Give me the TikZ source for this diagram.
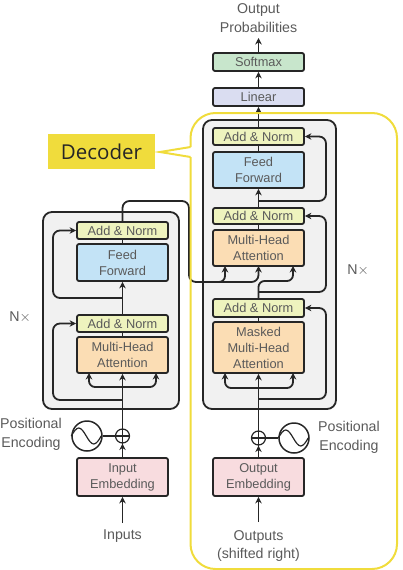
\documentclass[tikz,border=0pt]{standalone}
\usepackage{fontspec}
\usepackage{tikz}
\usepackage{xcolor}
\usetikzlibrary{arrows.meta}
\setmainfont{Liberation Sans}
\newfontfamily\callfont{Open Sans}
\definecolor{normcol}{HTML}{EEF3BE}
\definecolor{feedcol}{HTML}{C3E3F6}
\definecolor{attncol}{HTML}{FBDDB4}
\definecolor{embedcol}{HTML}{F8DCDF}
\definecolor{softcol}{HTML}{C8E6CC}
\definecolor{lincol}{HTML}{DADDF1}
\definecolor{stackcol}{HTML}{F1F1F1}
\definecolor{yellowcol}{HTML}{F0DC3C}
\definecolor{linecol}{HTML}{262626}
\definecolor{textcol}{HTML}{5A5A5A}
\begin{document}
\begin{tikzpicture} %Transformer
      [
      x=1pt, y=-1pt,
      block/.style={rectangle, draw=linecol, line width=1.8pt, rounded corners=2pt, minimum width=91pt, inner sep=0pt, align=center, text=textcol, font=\fontsize{12.8}{16}\selectfont},
      label/.style={text=textcol, inner sep=0pt, align=center, font=\fontsize{14.2}{18.5}\selectfont},
      stack/.style={draw=linecol, line width=1.8pt, fill=stackcol, rounded corners=9pt},
      wire/.style={draw=linecol, line width=1.8pt},
      arrow/.style={wire, -{Stealth[length=6.5pt,width=6.5pt]}},
      sine/.style={circle, draw=linecol, line width=1.5pt, minimum size=30pt, inner sep=0pt},
      plus/.style={circle, draw=linecol, line width=1.2pt, minimum size=14pt, inner sep=0pt},
      thinline/.style={draw=linecol, line width=1.2pt},
      frame/.style={draw=yellowcol, line width=2pt}
      ]
      \useasboundingbox (0,0) rectangle (402,570);
      % stacks
      \draw[stack] (43,212) rectangle (179,409);
      \draw[stack] (203,120) rectangle (336,409);
      % encoder
      \node[block, fill=normcol, minimum height=17pt] (enorma) at (122.5,230.5) {Add \& Norm};
      \node[block, fill=feedcol, minimum height=37pt] (efeed) at (122.5,262.5) {Feed\\Forward};
      \node[block, fill=normcol, minimum height=17pt] (enormb) at (122.5,323.5) {Add \& Norm};
      \node[block, fill=attncol, minimum height=36pt] (eattn) at (122.5,355) {Multi-Head\\Attention};
      \node[block, fill=embedcol, minimum height=38pt] (eembed) at (122.5,477) {Input\\Embedding};
      \node[plus] (eplus) at (122.5,436) {};
      \node[sine] (esine) at (87,436) {};
      \node[label] (inputs) at (122.5,536) {Inputs};
      \node[label, anchor=west] (epos) at (0,434.5) {Positional\\Encoding};
      \node[label] (enx) at (20,317) {N$\times$};
      % decoder
      \node[block, fill=softcol, minimum height=18pt] (soft) at (258.5,62) {Softmax};
      \node[block, fill=lincol, minimum height=18pt] (lin) at (258.5,97) {Linear};
      \node[block, fill=normcol, minimum height=17pt] (dnorma) at (258.5,136.5) {Add \& Norm};
      \node[block, fill=feedcol, minimum height=36pt] (dfeed) at (258.5,170) {Feed\\Forward};
      \node[block, fill=normcol, minimum height=16pt] (dnormb) at (258.5,216) {Add \& Norm};
      \node[block, fill=attncol, minimum height=36pt] (dattn) at (258.5,248) {Multi-Head\\Attention};
      \node[block, fill=normcol, minimum height=18pt] (dnormc) at (258.5,308) {Add \& Norm};
      \node[block, fill=attncol, minimum height=51pt] (dmask) at (258.5,347.5) {Masked\\Multi-Head\\Attention};
      \node[block, fill=embedcol, minimum height=38pt] (dembed) at (258.5,477) {Output\\Embedding};
      \node[plus] (dplus) at (258.5,438) {};
      \node[sine] (dsine) at (294,438) {};
      \node[label] (outputs) at (258.5,546) {Outputs\\(shifted right)};
      \node[label] (probs) at (258.5,18) {Output\\Probabilities};
      \node[label, anchor=west] (dpos) at (318,437.5) {Positional\\Encoding};
      \node[label] (dnx) at (358,270) {N$\times$};
      % free ends
      \coordinate (ein) at (122.5,523);
      \coordinate (din) at (258.5,522);
      \coordinate (dout) at (258.5,38);
      % plain wires
      \draw[wire] (enorma) -- (efeed);
      \draw[wire] (enormb) -- (eattn);
      \draw[wire] (dnorma) -- (dfeed);
      \draw[wire] (dnormb) -- (dattn);
      \draw[wire] (dnormc) -- (dmask);
      \draw[wire] (eplus) -- (esine);
      \draw[wire] (dplus) -- (dsine);
      % plus signs and sine waves
      \draw[thinline] (eplus.north) -- (eplus.south);
      \draw[thinline] (eplus.west) -- (eplus.east);
      \draw[thinline] (dplus.north) -- (dplus.south);
      \draw[thinline] (dplus.west) -- (dplus.east);
      \draw[thinline] (esine.west) sin ++(7.5,-8) cos ++(7.5,8) sin ++(7.5,8) cos ++(7.5,-8);
      \draw[thinline] (dsine.west) sin ++(7.5,-8) cos ++(7.5,8) sin ++(7.5,8) cos ++(7.5,-8);
      % plain arrows
      \draw[arrow] (ein) -- (eembed);
      \draw[arrow] (din) -- (dembed);
      \draw[arrow] (eembed) -- (eplus);
      \draw[arrow] (dembed) -- (dplus);
      \draw[arrow] (eplus) -- (eattn);
      \draw[arrow] (dplus) -- (dmask);
      \draw[arrow] (enormb) -- (efeed);
      \draw[arrow] (dnormb) -- (dfeed);
      \draw[arrow] (dnorma) -- (lin);
      \draw[arrow] (lin) -- (soft);
      \draw[arrow] (soft) -- (dout);
      % residuals
      \draw[arrow, rounded corners=7pt] (122.5,298) -- (53,298) -- (53,230.5) -- (enorma.west);
      \draw[arrow, rounded corners=7pt] (122.5,400) -- (53,400) -- (53,323.5) -- (enormb.west);
      \draw[arrow, rounded corners=7pt] (258.5,201) -- (326,201) -- (326,136.5) -- (dnorma.east);
      \draw[arrow, rounded corners=7pt] (258.5,292) -- (326,292) -- (326,216) -- (dnormb.east);
      \draw[arrow, rounded corners=7pt] (258.5,399) -- (326,399) -- (326,308) -- (dnormc.east);
      % attention inputs
      \draw[arrow, rounded corners=6pt] (122.5,387) -- (89,387) -- (89,373);
      \draw[arrow, rounded corners=6pt] (122.5,387) -- (156,387) -- (156,373);
      \draw[arrow, rounded corners=6pt] (258.5,388) -- (225,388) -- (225,373);
      \draw[arrow, rounded corners=6pt] (258.5,388) -- (293,388) -- (293,373);
      \draw[arrow, rounded corners=6pt] (dnormc) -- (258.5,281) -- (293,281) -- (293,266);
      % encoder to decoder
      \draw[arrow, rounded corners=7pt] (enorma) -- (122.5,201) -- (189,201) -- (189,282) -- (258.5,282) -- (258.5,266);
      \draw[arrow, rounded corners=6pt] (215,282) -- (225,282) -- (225,266);
      % callout
      \draw[frame, rounded corners=25pt] (190.5,147) -- (190.5,113) -- (397,113) -- (397,569) -- (190.5,569) -- (190.5,157);
      \draw[frame] (190.5,147) -- (160,152) -- (190.5,157);
      \node[fill=yellowcol, minimum width=107pt, minimum height=35pt, inner sep=0pt, text=linecol, font=\callfont\fontsize{20.5}{24}\selectfont] (call) at (101.5,151.5) {Decoder};
\end{tikzpicture}
\end{document}
